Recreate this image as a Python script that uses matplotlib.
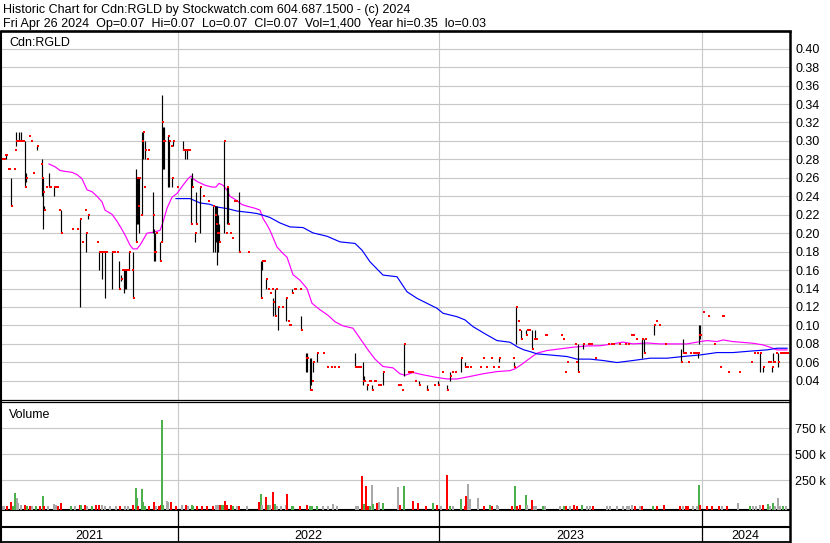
import matplotlib
matplotlib.use("Agg")
import matplotlib.pyplot as plt
from matplotlib.lines import Line2D
import numpy as np

plt.rcParams['font.family'] = ['Liberation Sans', 'DejaVu Sans']

# ------------------------------------------------------------------ data
title_line1 = "Historic Chart for Cdn:RGLD by Stockwatch.com 604.687.1500 - (c) 2024"
title_line2 = "Fri Apr 26 2024  Op=0.07  Hi=0.07  Lo=0.07  Cl=0.07  Vol=1,400  Year hi=0.35  lo=0.03"
symbol = "Cdn:RGLD"
volume_title = "Volume"
year_labels = ["2021", "2022", "2023", "2024"]
year_start_day = [178, 439, 702]          # trading-day index where a new year starts
day_range = (1, 789.5)                    # trading-day index span of the chart

price_ticks = [0.04, 0.06, 0.08, 0.10, 0.12, 0.14, 0.16, 0.18, 0.20, 0.22,
               0.24, 0.26, 0.28, 0.30, 0.32, 0.34, 0.36, 0.38, 0.40]
vol_ticks = [250000, 500000, 750000]
vol_tick_labels = ["250 k", "500 k", "750 k"]

# daily bars (trading-day index, high, low, close)
day = [2, 4, 5, 6, 8, 9, 11, 14, 15, 16,
       18, 19, 21, 23, 25, 26, 29, 31, 33, 37,
       41, 42, 43, 44, 46, 49, 50, 54, 56, 57,
       59, 61, 72, 77, 80, 82, 85, 86, 88, 97,
       99, 101, 102, 104, 105, 106, 112, 114, 117, 119,
       121, 122, 124, 125, 126, 128, 129, 132, 133, 136,
       137, 138, 139, 141, 142, 143, 144, 145, 147, 148,
       153, 154, 155, 156, 160, 161, 162, 163, 164, 168,
       169, 171, 172, 173, 177, 183, 185, 187, 189, 191,
       192, 195, 196, 200, 203, 208, 213, 215, 216, 217,
       218, 219, 224, 226, 227, 228, 230, 232, 234, 236,
       239, 248, 261, 262, 264, 266, 268, 270, 272, 273,
       275, 276, 278, 282, 286, 288, 289, 290, 292, 294,
       295, 300, 301, 306, 307, 310, 311, 312, 313, 317,
       323, 327, 331, 334, 338, 355, 356, 358, 360, 363,
       364, 367, 369, 370, 372, 374, 375, 378, 380, 383,
       398, 400, 402, 404, 408, 410, 412, 415, 419, 427,
       434, 438, 442, 447, 450, 452, 455, 461, 465, 467,
       470, 480, 483, 486, 491, 493, 498, 499, 513, 514,
       516, 518, 519, 521, 526, 527, 529, 532, 534, 535,
       536, 545, 546, 561, 563, 565, 567, 575, 576, 578,
       583, 588, 590, 591, 595, 608, 611, 613, 619, 625,
       628, 631, 633, 636, 642, 644, 645, 654, 656, 659,
       665, 681, 683, 684, 685, 688, 690, 693, 695, 697,
       698, 699, 700, 703, 708, 714, 720, 722, 723, 728,
       739, 751, 754, 757, 760, 763, 768, 770, 772, 773,
       774, 776, 778, 780, 782, 784, 786, 787]
high = [.28, .28, .285, .285, .27, .27, .26, .27, .29, .31,
        .30, .31, .31, .30, .30, .265, .305, .30, .265, .295,
        .275, .28, .26, .23, .25, .265, .25, .25, .25, .25,
        .225, .225, .205, .205, .215, .19, .225, .20, .22, .19,
        .18, .18, .18, .18, .18, .18, .18, .18, .18, .17,
        .155, .16, .16, .16, .16, .16, .18, .16, .18, .27,
        .26, .26, .26, .22, .31, .31, .25, .30, .28, .29,
        .245, .205, .20, .20, .19, .19, .35, .315, .315, .305,
        .30, .295, .26, .30, .25, .30, .29, .29, .29, .26,
        .265, .20, .245, .25, .24, .235, .23, .23, .23, .23,
        .22, .21, .30, .20, .25, .25, .20, .195, .235, .235,
        .245, .18, .17, .17, .17, .15, .14, .135, .14, .13,
        .14, .14, .12, .12, .13, .105, .10, .10, .14, .14,
        .14, .14, .11, .07, .07, .065, .065, .04, .06, .07,
        .07, .055, .055, .055, .055, .07, .055, .055, .055, .06,
        .045, .035, .04, .04, .035, .04, .04, .035, .035, .05,
        .035, .035, .03, .08, .05, .05, .05, .04, .04, .035,
        .035, .04, .05, .035, .05, .05, .05, .065, .06, .055,
        .055, .055, .065, .055, .065, .055, .055, .065, .065, .06,
        .12, .105, .095, .095, .095, .095, .095, .095, .085, .095,
        .085, .09, .09, .09, .085, .05, .06, .08, .06, .08,
        .08, .08, .08, .08, .065, .08, .08, .08, .08, .08,
        .08, .09, .09, .085, .085, .085, .085, .10, .105, .10,
        .08, .075, .085, .07, .07, .06, .07, .07, .07, .07,
        .07, .10, .10, .115, .11, .08, .055, .11, .11, .05,
        .05, .06, .07, .07, .07, .055, .06, .06, .055, .07,
        .06, .07, .07, .07, .07, .07, .07, .07]
low = [.28, .28, .285, .28, .27, .27, .23, .27, .29, .295,
       .30, .30, .30, .30, .25, .255, .305, .30, .265, .29,
       .275, .24, .205, .225, .25, .25, .25, .24, .25, .25,
       .225, .20, .205, .205, .12, .19, .225, .18, .215, .19,
       .16, .18, .15, .18, .13, .18, .14, .18, .18, .14,
       .148, .16, .135, .14, .14, .16, .16, .16, .13, .19,
       .21, .21, .20, .22, .22, .28, .25, .28, .28, .29,
       .20, .17, .17, .20, .17, .19, .19, .27, .27, .25,
       .25, .295, .25, .295, .25, .29, .28, .28, .29, .21,
       .25, .19, .21, .20, .24, .235, .18, .18, .19, .165,
       .18, .19, .20, .20, .21, .21, .20, .195, .235, .235,
       .18, .18, .13, .16, .17, .14, .14, .135, .14, .11,
       .11, .14, .095, .12, .105, .105, .10, .10, .135, .14,
       .14, .14, .095, .05, .05, .03, .035, .04, .05, .06,
       .07, .055, .055, .055, .055, .055, .055, .055, .055, .035,
       .04, .03, .04, .04, .03, .04, .04, .035, .035, .035,
       .035, .035, .03, .045, .05, .05, .05, .04, .035, .03,
       .035, .035, .05, .03, .04, .05, .05, .05, .055, .055,
       .055, .055, .065, .055, .065, .055, .055, .06, .065, .055,
       .08, .105, .095, .085, .09, .095, .095, .075, .085, .085,
       .085, .09, .09, .09, .085, .05, .06, .08, .06, .05,
       .075, .08, .08, .08, .065, .08, .08, .08, .08, .08,
       .08, .09, .09, .085, .065, .07, .085, .09, .105, .10,
       .08, .06, .07, .07, .07, .06, .07, .07, .07, .07,
       .065, .08, .085, .115, .11, .08, .055, .11, .11, .05,
       .05, .06, .07, .07, .05, .05, .06, .06, .05, .06,
       .06, .07, .055, .07, .07, .07, .07, .07]
close = [.28, .28, .285, .285, .27, .27, .23, .27, .29, .30,
         .30, .30, .30, .30, .25, .26, .305, .30, .265, .295,
         .275, .26, .245, .225, .25, .25, .25, .25, .25, .25,
         .225, .20, .205, .205, .215, .19, .225, .20, .22, .19,
         .18, .18, .18, .18, .18, .18, .18, .18, .18, .14,
         .15, .16, .16, .16, .16, .16, .18, .16, .13, .19,
         .26, .23, .26, .22, .30, .31, .25, .29, .28, .29,
         .22, .18, .18, .20, .17, .19, .32, .30, .30, .305,
         .30, .295, .26, .30, .25, .29, .29, .29, .29, .21,
         .25, .20, .21, .25, .24, .235, .23, .22, .21, .20,
         .20, .19, .30, .20, .25, .21, .20, .195, .235, .235,
         .18, .18, .13, .17, .17, .15, .14, .135, .14, .125,
         .11, .14, .12, .12, .13, .105, .10, .10, .135, .14,
         .14, .14, .095, .065, .065, .03, .03, .04, .06, .07,
         .07, .055, .055, .055, .055, .055, .055, .055, .055, .04,
         .04, .035, .04, .04, .03, .04, .04, .035, .035, .05,
         .035, .035, .03, .08, .05, .05, .05, .04, .035, .03,
         .035, .035, .05, .03, .045, .05, .05, .065, .055, .055,
         .055, .055, .065, .055, .065, .055, .055, .065, .065, .055,
         .12, .105, .095, .085, .09, .095, .095, .075, .085, .085,
         .085, .09, .09, .09, .085, .05, .06, .08, .06, .05,
         .08, .08, .08, .08, .065, .08, .08, .08, .08, .08,
         .08, .09, .09, .085, .085, .07, .085, .10, .105, .10,
         .08, .06, .07, .07, .07, .06, .07, .07, .07, .07,
         .07, .09, .09, .115, .11, .08, .055, .11, .11, .05,
         .05, .06, .07, .07, .07, .055, .06, .06, .055, .06,
         .06, .07, .06, .07, .07, .07, .07, .07]

# moving averages (day index, value)
ma_short_day = [49, 55, 60, 65, 72, 77, 82, 87, 92, 97,
                102, 105, 112, 117, 122, 126, 130, 133, 137, 140,
                147, 153, 160, 163, 167, 172, 177, 183, 188, 191,
                193, 198, 205, 212, 216, 219, 223, 227, 230, 236,
                242, 248, 255, 260, 263, 267, 270, 277, 283, 287,
                293, 300, 307, 312, 320, 328, 335, 343, 353, 360,
                368, 375, 383, 393, 400, 405, 413, 423, 437, 447,
                457, 470, 483, 497, 510, 515, 522, 530, 537, 547,
                560, 573, 587, 600, 613, 623, 633, 647, 660, 677,
                687, 700, 707, 717, 723, 733, 753, 763, 770, 777,
                787]
ma_short = [.275, .272, .268, .267, .266, .2635, .259, .247, .245, .240,
            .234, .225, .2205, .213, .204, .196, .187, .183, .183, .187,
            .200, .201, .203, .212, .227, .239, .243, .252, .259, .262,
            .259, .2555, .252, .250, .250, .254, .252, .2465, .240, .236,
            .231, .229, .227, .225, .216, .209, .203, .185, .178, .174,
            .155, .149, .140, .124, .117, .111, .104, .0995, .097, .086,
            .0735, .0635, .0555, .054, .0476, .046, .049, .0465, .0436, .042,
            .042, .0447, .0476, .050, .051, .053, .058, .0645, .070, .0728,
            .0746, .0764, .0778, .078, .080, .082, .080, .081, .080, .080,
            .080, .0825, .0836, .0825, .0843, .0825, .0807, .0789, .0764, .0735,
            .0735]
ma_long_day = [176, 190, 200, 210, 217, 227, 237, 250, 257, 263,
               270, 280, 290, 303, 313, 327, 340, 355, 362, 370,
               383, 397, 407, 417, 427, 437, 443, 457, 465, 473,
               487, 497, 510, 518, 524, 530, 537, 550, 567, 577,
               590, 603, 617, 633, 650, 667, 683, 700, 717, 733,
               753, 767, 777, 787]
ma_long = [.2375, .2375, .2328, .2313, .2284, .2267, .224, .2224, .2213, .2195,
           .217, .2111, .2068, .2061, .2003, .1967, .1906, .1889, .1816, .169,
           .1546, .1528, .1365, .1294, .124, .1186, .1132, .1095, .106, .0987,
           .0897, .0836, .0818, .0764, .0735, .0717, .0692, .068, .0663, .0635,
           .0635, .062, .0598, .062, .0645, .0645, .0663, .068, .0706, .0706,
           .0724, .0735, .0753, .0753]

# volume (day index, thousands of shares, direction: g=up r=down n=unchanged)
vol_day = [2, 4, 7, 11, 13, 15, 17, 18, 21, 25,
           27, 30, 32, 36, 40, 43, 44, 48, 54, 56,
           58, 61, 71, 75, 80, 81, 85, 87, 92, 96,
           99, 102, 105, 110, 116, 120, 125, 128, 133, 136,
           137, 138, 142, 143, 145, 149, 154, 156, 159, 161,
           162, 163, 167, 168, 171, 176,
           182, 186, 188, 192, 193, 197, 202, 207, 213, 216,
           218, 220, 222, 223, 225, 227, 231, 233, 237, 239,
           247,
           259, 261, 262, 266, 268, 270, 273, 275, 277, 281,
           286, 287, 292, 293, 300, 307, 310, 312, 317, 323,
           328, 333, 337, 356, 358, 362, 364, 366, 368, 370,
           372, 373, 377, 379, 383, 398, 400, 404, 413, 418,
           426, 433, 437, 441, 447, 450, 453, 461, 465, 466,
           468, 470, 478, 484, 490, 492, 497, 498, 512, 515,
           517, 520, 526, 527, 532, 534, 536, 543, 545, 560,
           564, 566, 570, 574, 577, 582, 587, 590, 593, 607,
           610, 617, 623, 627, 629, 632, 635, 640, 642, 653,
           657, 664, 680, 683, 686, 688, 693, 697, 699, 700,
           707, 712, 719, 722, 727, 738, 750, 753, 756, 760,
           763, 768, 770, 773, 775, 778, 780, 783, 786]
vol_k = [3, 3, 5, 41, 5, 128, 77, 35, 8, 12,
         6, 6, 4, 3, 3, 99, 6, 6, 22, 10,
         6, 32, 4, 4, 12, 15, 12, 6, 4, 12,
         10, 15, 5, 4, 5, 4, 5, 3, 10, 176,
         77, 3, 163, 45, 6, 3, 41, 4, 4, 12,
         830, 12, 51, 40, 38, 3,
         10, 10, 5, 10, 5, 3, 3, 3, 6, 10,
         10, 10, 12, 10, 51, 12, 10, 3, 3, 3,
         2,
         45, 118, 10, 92, 15, 8, 138, 20, 6, 5,
         10, 118, 6, 5, 5, 10, 6, 6, 5, 4,
         5, 22, 3, 5, 3, 291, 22, 195, 5, 5,
         205, 22, 30, 38, 32, 186, 10, 195, 51, 29,
         3, 35, 10, 3, 301, 3, 3, 70, 3, 99,
         214, 70, 80, 5, 10, 3, 12, 3, 3, 195,
         6, 15, 108, 17, 61, 3, 3, 6, 3, 6,
         6, 3, 3, 10, 6, 12, 3, 3, 3, 3,
         3, 3, 3, 6, 5, 17, 3, 3, 3, 6,
         3, 12, 6, 3, 3, 3, 3, 6, 205, 10,
         3, 3, 3, 3, 3, 32, 6, 3, 3, 10,
         10, 22, 3, 32, 6, 80, 3, 3, 3]
vol_dir = ("nnrrggnnnr" "grngrgrnnn" "rrgnrgrngr" "rnnnnrnnrg" "grgggrrnrr" "ggnnrr"
           "nrnggrrrrn" "nrggrrrgnr" "n"
           "rgnrgnrgnn" "nrggrrgggn" "nnnnnrgrrg" "ngrngnrgrr"
           "rgrnrgngrr" "nnnrgrnnrg" "rrgnrnngnn" "grnrrgnnrn" "nnnnnnrnrg"
           "rrrnrrnngr" "rrrnrngnnn" "rgngnnngn")

# ------------------------------------------------------------------ layout helpers
W, H = 830, 543
fig = plt.figure(figsize=(W / 100, H / 100), dpi=100)
fig.patch.set_facecolor("white")


def px_rect(x0, y0, x1, y1):
    return [x0 / W, 1 - y1 / H, (x1 - x0) / W, (y1 - y0) / H]


def fig_line(xs, ys, lw):
    fig.add_artist(Line2D([x / W for x in xs], [1 - y / H for y in ys],
                          transform=fig.transFigure, color="black", lw=lw,
                          solid_capstyle="butt"))


GRID = "#c8c8c8"
FS = 9

# ------------------------------------------------------------------ header
fig.text(3 / W, 1 - 13.3 / H, title_line1, fontsize=FS, va="baseline", ha="left")
fig.text(3 / W, 1 - 26.7 / H, title_line2, fontsize=FS, va="baseline", ha="left")

# ------------------------------------------------------------------ price panel
ax = fig.add_axes(px_rect(1, 30.6, 789.5, 400.3))
ax.set_xlim(*day_range)
ax.set_ylim(0.01886, 0.4196)
ax.set_yticks(price_ticks)
ax.set_yticklabels([f"{t:.2f}" for t in price_ticks])
ax.yaxis.tick_right()
ax.tick_params(axis="y", length=0, pad=4, labelsize=FS)
ax.set_xticks(year_start_day)
ax.tick_params(axis="x", length=0, labelbottom=False)
ax.grid(True, color=GRID, lw=0.8, zorder=0)
ax.set_axisbelow(True)
for s in ("left", "right"):
    ax.spines[s].set_visible(False)
ax.spines["top"].set_linewidth(1.9)
ax.spines["bottom"].set_linewidth(0.9)

d = np.array(day)
ax.vlines(d, low, high, colors="black", lw=0.85, zorder=3)
ax.plot(d + 0.6, close, ls="none", marker="s", ms=2.1, mew=0, color="#ff0000", zorder=4)
ax.plot(ma_short_day, ma_short, color="#ff00ff", lw=0.85, zorder=2)
ax.plot(ma_long_day, ma_long, color="#0000ff", lw=0.85, zorder=2)
ax.text(9, 0.4196 - (45.7 - 30.6) * 0.02 / 18.45, symbol, fontsize=FS,
        va="baseline", ha="left")

# ------------------------------------------------------------------ volume panel
VOL_LO, VOL_HI = -35600, 1000000
axv = fig.add_axes(px_rect(1, 402.3, 789.5, 510))
axv.set_xlim(*day_range)
axv.set_ylim(VOL_LO, VOL_HI)
axv.set_yticks(vol_ticks)
axv.set_yticklabels(vol_tick_labels)
axv.yaxis.tick_right()
axv.tick_params(axis="y", length=0, pad=4, labelsize=FS)
axv.set_xticks(year_start_day)
axv.tick_params(axis="x", length=0, labelbottom=False)
axv.grid(True, color=GRID, lw=0.8, zorder=0)
axv.set_axisbelow(True)
for s in ("left", "right"):
    axv.spines[s].set_visible(False)
axv.spines["top"].set_linewidth(0.9)
axv.spines["bottom"].set_linewidth(1.5)
colmap = {"g": "#4cb04c", "r": "#ff0000", "n": "#a8a8a8"}
vol = np.array(vol_k) * 1000.0
axv.bar(vol_day, vol - VOL_LO, bottom=VOL_LO, width=1.6,
        color=[colmap[c] for c in vol_dir], linewidth=0, zorder=3)
axv.text(9, VOL_HI - (417.7 - 402.3) * (VOL_HI - VOL_LO) / (510 - 402.3), volume_title,
         fontsize=FS, va="baseline", ha="left")

# ------------------------------------------------------------------ year band
axb = fig.add_axes(px_rect(1, 510, 789.5, 541.5))
axb.set_xlim(*day_range)
axb.set_ylim(541.5, 510)
axb.axis("off")
axb.vlines(year_start_day, 510, 541.5, colors="black", lw=0.9)
axb.hlines([527], day_range[0], day_range[1], colors="black", lw=1.5)
edges = [day_range[0]] + year_start_day + [day_range[1]]
for i, lab in enumerate(year_labels):
    axb.text((edges[i] + edges[i + 1]) / 2, 539.3, lab, fontsize=FS,
             ha="center", va="baseline")

# ------------------------------------------------------------------ frame lines
fig_line([1, 1], [30.6, 543], 1.5)
fig_line([789.5, 789.5], [30.6, 543], 1.8)
fig_line([0, 790.5], [541.6, 541.6], 1.3)

fig.savefig("out.png", dpi=100, facecolor="white")
